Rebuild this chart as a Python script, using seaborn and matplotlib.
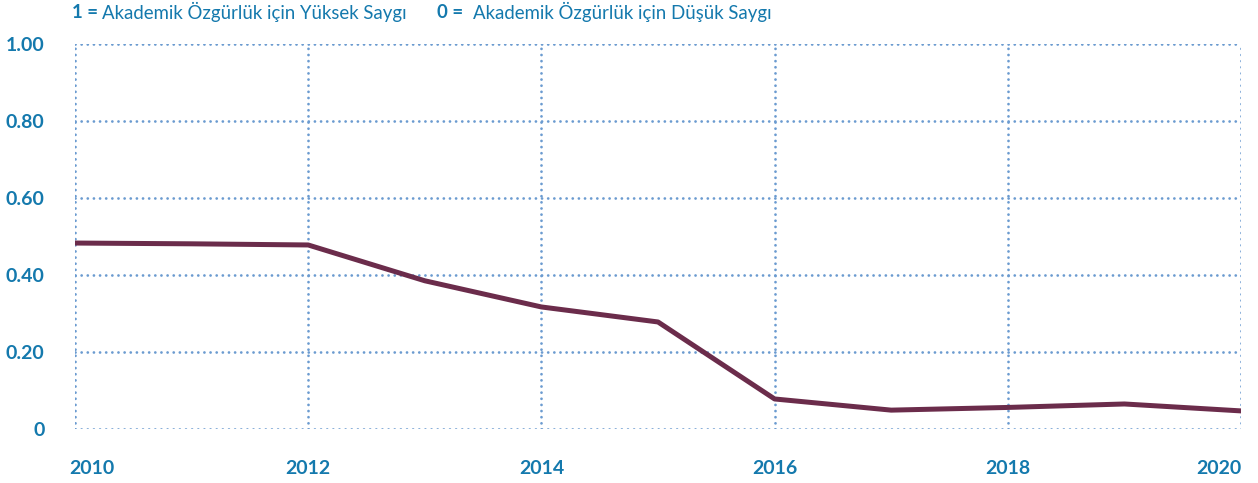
import matplotlib
matplotlib.use("Agg")
import matplotlib.pyplot as plt
import matplotlib.transforms as mtransforms
import seaborn as sns
import pandas as pd

YEARS = [2010, 2011, 2012, 2013, 2014, 2015, 2016, 2017, 2018, 2019, 2020]
SCORES = [0.483, 0.481, 0.478, 0.385, 0.317, 0.278, 0.078, 0.049, 0.056, 0.065, 0.047]
X_TICKS = [2010, 2012, 2014, 2016, 2018, 2020]
Y_TICKS = [0, 0.2, 0.4, 0.6, 0.8, 1.0]
Y_LABELS = ["0", "0.20", "0.40", "0.60", "0.80", "1.00"]

LINE_COLOR = "#6b2c4b"
GRID_COLOR = "#6b9bd0"
TEXT_COLOR = "#1479ad"

sns.set_style("white")
plt.rcParams["font.family"] = ["Lato", "DejaVu Sans"]

df = pd.DataFrame({"year": YEARS, "score": SCORES})

fig = plt.figure(figsize=(12.58, 4.83), dpi=100)
ax = fig.add_axes([75 / 1258, 1 - 429 / 483, (1241 - 75) / 1258, (429 - 44) / 483])

sns.lineplot(data=df, x="year", y="score", color=LINE_COLOR, linewidth=3.6, ax=ax,
             zorder=3)

ax.set_xlim(2010, 2020)
ax.set_ylim(0, 1)
ax.set_xticks(X_TICKS)
ax.set_xticklabels([str(x) for x in X_TICKS])
ax.set_yticks(Y_TICKS)
ax.set_yticklabels(Y_LABELS)
ax.grid(True, color=GRID_COLOR, linestyle=(0, (0.01, 2.2)), linewidth=2.0,
        dash_capstyle="round")
for s in ax.spines.values():
    s.set_visible(False)
ax.tick_params(axis="both", length=0, labelcolor=TEXT_COLOR, labelsize=14)
ax.tick_params(axis="x", pad=22)
ax.tick_params(axis="y", pad=22)
for lab in ax.get_xticklabels() + ax.get_yticklabels():
    lab.set_fontweight("bold")
xl = ax.get_xticklabels()
xl[0].set_horizontalalignment("left")
xl[0].set_transform(xl[0].get_transform() + mtransforms.ScaledTranslation(-6 / 100, 0, fig.dpi_scale_trans))
xl[-1].set_horizontalalignment("right")
ax.set_xlabel("")
ax.set_ylabel("")

# legend-like header line
fig.text(72 / 1258, 1 - 12 / 483, "1 =", color=TEXT_COLOR, fontsize=13.4,
         fontweight="bold", va="center")
fig.text(102 / 1258, 1 - 12 / 483, "Akademik Özgürlük için Yüksek Saygı",
         color=TEXT_COLOR, fontsize=13.4, va="center")
fig.text(437 / 1258, 1 - 12 / 483, "0 =", color=TEXT_COLOR, fontsize=13.4,
         fontweight="bold", va="center")
fig.text(473 / 1258, 1 - 12 / 483, "Akademik Özgürlük için Düşük Saygı",
         color=TEXT_COLOR, fontsize=13.4, va="center")

fig.savefig("out.png", dpi=100)
